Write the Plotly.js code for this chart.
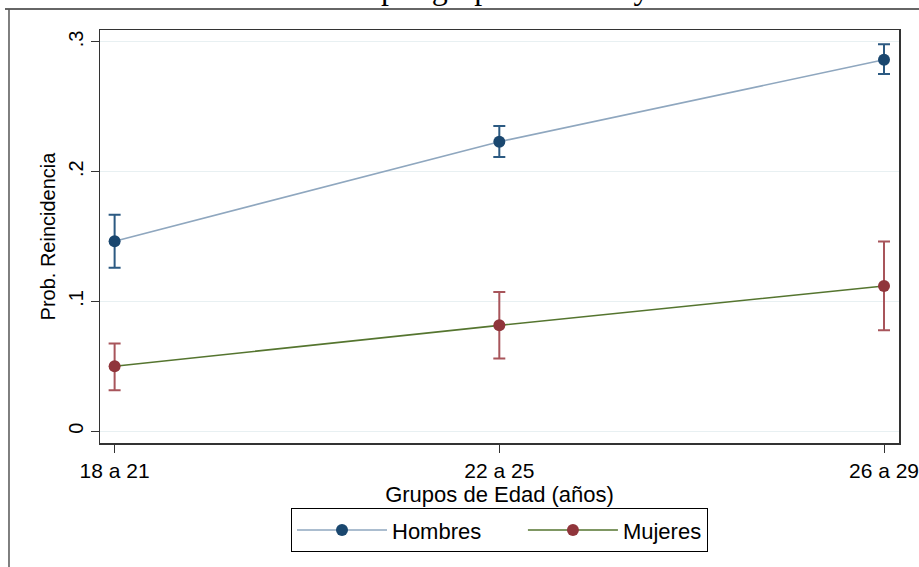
<!DOCTYPE html>
<html>
<head>
<meta charset="utf-8">
<script src="https://cdn.plot.ly/plotly-3.0.1.min.js"></script>
<style>html,body{margin:0;padding:0;background:#fff;}#chart{width:919px;height:567px;}</style>
</head>
<body>
<div id="chart"></div>
<script>
var categories = ["18 a 21", "22 a 25", "26 a 29"];
var seriesNames = ["Hombres", "Mujeres"];
var hombres = [0.1464, 0.2231, 0.2862];
var hombresLow = [0.1259, 0.2113, 0.2752];
var hombresHigh = [0.1667, 0.2351, 0.2982];
var mujeres = [0.0500, 0.0815, 0.1118];
var mujeresLow = [0.0315, 0.0560, 0.0777];
var mujeresHigh = [0.0675, 0.1072, 0.1462];
var yTickVals = [0, 0.1, 0.2, 0.3];
var yTickText = ["0", ".1", ".2", ".3"];

function plus(v, hi) { return hi.map(function (h, i) { return h - v[i]; }); }
function minus(v, lo) { return lo.map(function (l, i) { return v[i] - l; }); }
var xIdx = categories.map(function (c, i) { return i; });
var pad = "\u00a0\u00a0\u00a0\u00a0\u00a0\u00a0";

var traces = [
  {
    x: xIdx, y: hombres, name: seriesNames[0] + pad, type: "scatter", mode: "lines+markers",
    line: {color: "#8fa7bf", width: 1.6},
    marker: {color: "#1a476f", size: 12},
    error_y: {type: "data", symmetric: false, array: plus(hombres, hombresHigh),
      arrayminus: minus(hombres, hombresLow), color: "#2c5a82", thickness: 2, width: 6}
  },
  {
    x: xIdx, y: mujeres, name: seriesNames[1], type: "scatter", mode: "lines+markers",
    line: {color: "#55752f", width: 1.6},
    marker: {color: "#90353b", size: 12},
    error_y: {type: "data", symmetric: false, array: plus(mujeres, mujeresHigh),
      arrayminus: minus(mujeres, mujeresLow), color: "#a8555b", thickness: 2, width: 6}
  }
];

var font = {family: "Liberation Sans, Arial, sans-serif", size: 20, color: "#000"};
var xfont = {family: "Liberation Sans, Arial, sans-serif", size: 21, color: "#000"};
var bigfont = {family: "Liberation Sans, Arial, sans-serif", size: 22, color: "#000"};

var layout = {
  width: 919, height: 567,
  margin: {l: 100, r: 20, t: 30, b: 124},
  paper_bgcolor: "#fff", plot_bgcolor: "#fff",
  font: font,
  showlegend: true,
  xaxis: {
    range: [-0.038, 2.039], tickvals: xIdx, ticktext: categories,
    showgrid: false, zeroline: false, showline: true, mirror: true,
    linecolor: "#333", linewidth: 1.5, ticks: "outside", ticklen: 8, tickcolor: "#333",
    tickfont: xfont, ticklabeloverflow: "allow",
    title: {text: "Grupos de Edad (años)", font: bigfont, standoff: 0}
  },
  yaxis: {
    range: [-0.0092, 0.3092], tickvals: yTickVals, ticktext: yTickText,
    tickangle: -90,
    showgrid: true, gridcolor: "#e8f0f2", gridwidth: 1, zeroline: false,
    showline: true, mirror: true, linecolor: "#333", linewidth: 1.5,
    ticks: "outside", ticklen: 8, tickcolor: "#333",
    tickfont: font,
    title: {text: "Prob. Reincidencia", font: font, standoff: 3}
  },
  legend: {
    orientation: "h", x: 0.5, xanchor: "center", y: -0.158, yanchor: "top",
    bordercolor: "#000", borderwidth: 1, bgcolor: "#fff",
    font: bigfont, itemwidth: 90, traceorder: "normal"
  },
  annotations: [{
    text: "por grupos de edad y sexo", xref: "paper", yref: "paper",
    x: 0.349, xanchor: "left", y: 1.0533, yanchor: "bottom", showarrow: false,
    font: {family: "Liberation Serif, Times New Roman, serif", size: 32, color: "#000"}
  }],
  shapes: [
    {type: "line", xref: "paper", yref: "paper", x0: -0.1189, x1: 1.03, y0: 1.0508, y1: 1.0508,
      line: {color: "#333", width: 1.5}},
    {type: "line", xref: "paper", yref: "paper", x0: -0.1139, x1: -0.1139, y0: 1.0508, y1: -0.31,
      line: {color: "#555", width: 1.5}}
  ]
};

Plotly.newPlot("chart", traces, layout, {displayModeBar: false, staticPlot: true});
</script>
</body>
</html>
